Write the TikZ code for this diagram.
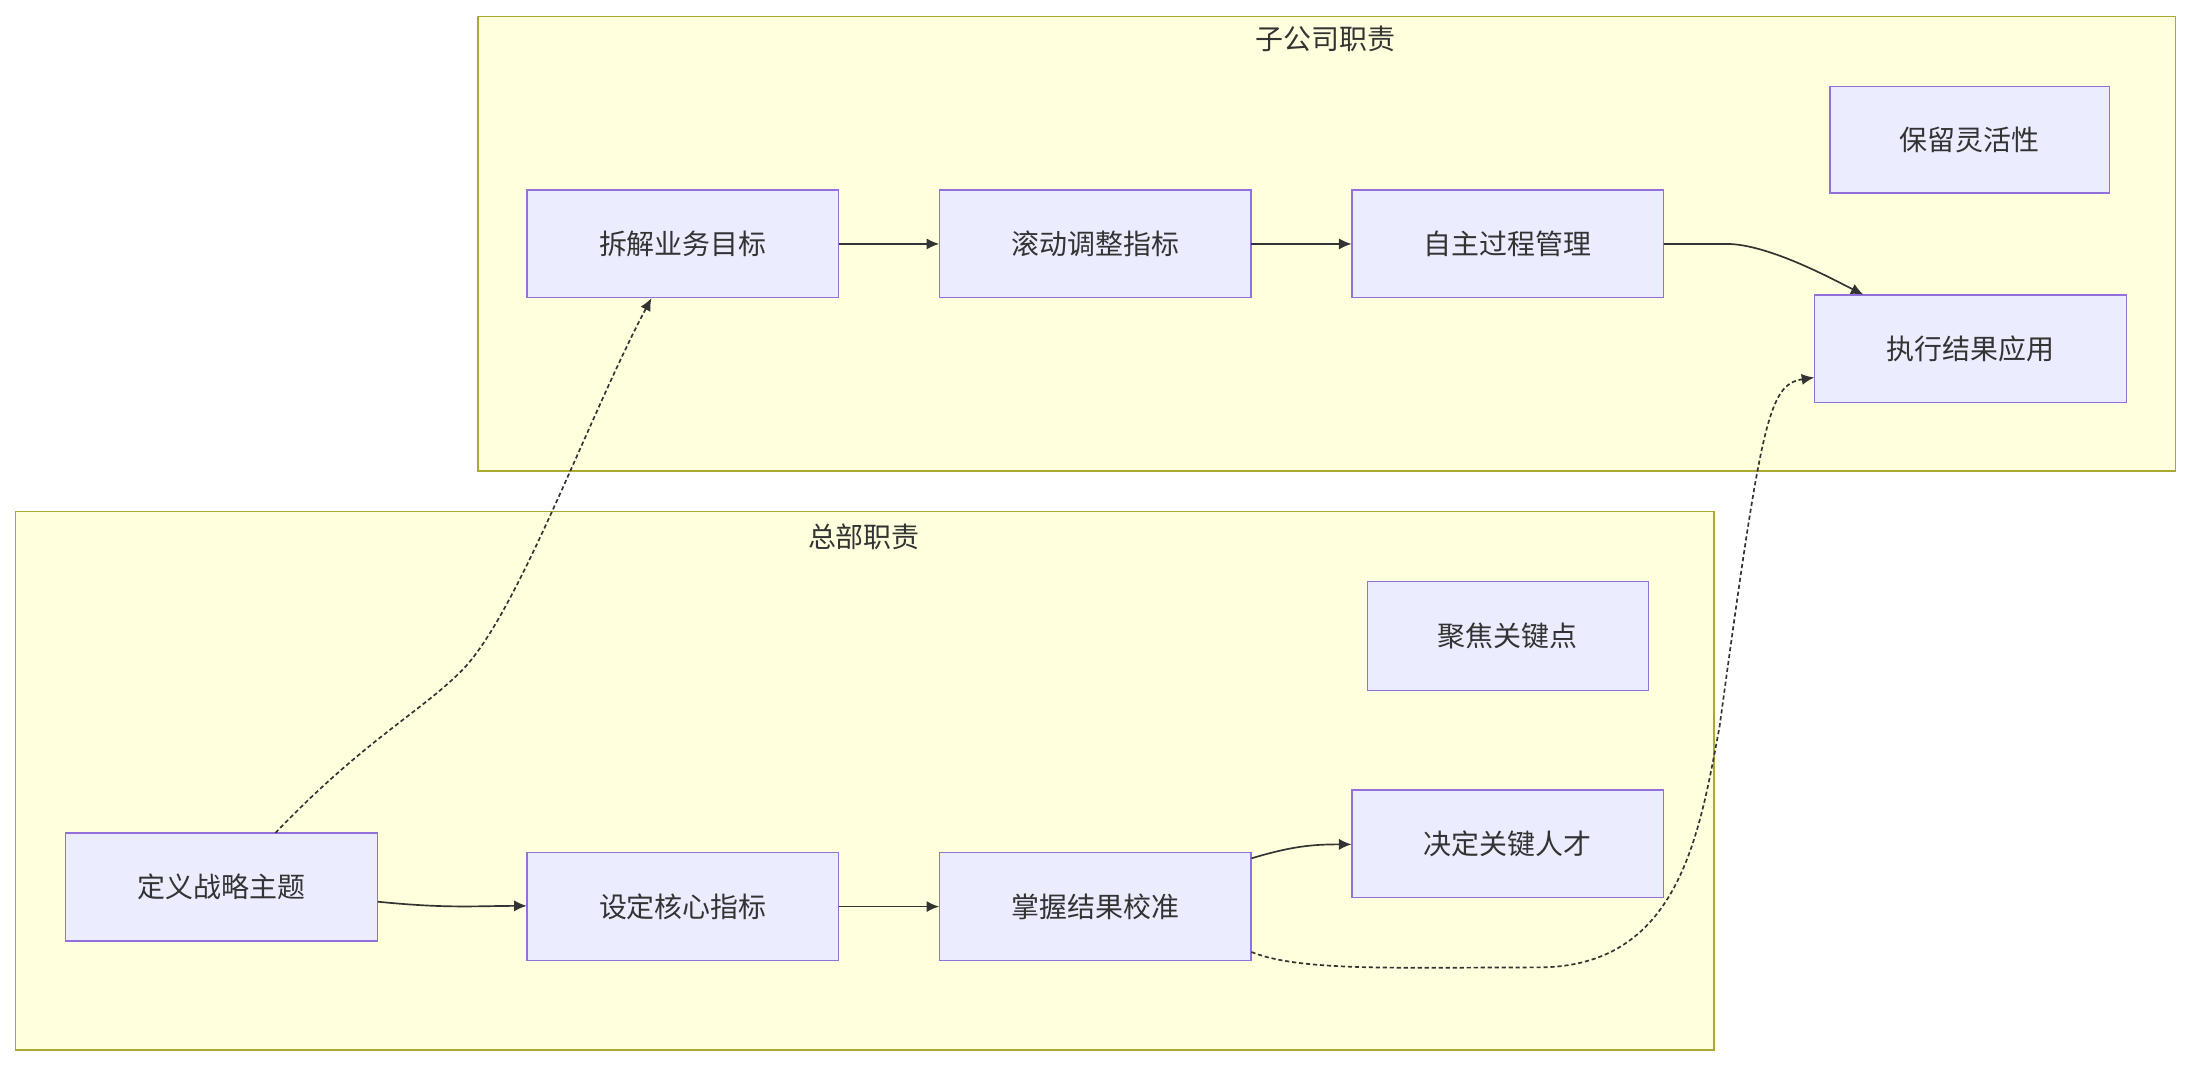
\documentclass[tikz,border=0pt]{standalone}
\usepackage{fontspec}
\setmainfont{Noto Sans CJK SC}
\usetikzlibrary{arrows.meta}
\definecolor{clf}{HTML}{FFFFDE}\definecolor{cld}{HTML}{AAAA33}
\definecolor{ndf}{HTML}{ECECFF}\definecolor{ndd}{HTML}{9370DB}
\definecolor{tx}{HTML}{333333}
\begin{document}
\begin{tikzpicture}[x=1pt,y=-1pt,
 clus/.style={draw=cld,fill=clf,line width=1pt},
 box/.style={draw=ndd,fill=ndf,line width=1pt},
 lab/.style={text=tx,font=\fontsize{20}{24}\selectfont},
 conn/.style={draw=tx,line width=1.2pt,-{Latex[length=9pt,width=8pt]}},
 dconn/.style={conn,dash pattern=on 3pt off 2pt}]
\useasboundingbox (0,0) rectangle (1568,763);
\draw[clus] (342,12) rectangle (1556,337);
\node[lab] (t1) at (948,28) {子公司职责};
\draw[clus] (11,366) rectangle (1226,751);
\node[lab] (t2) at (618,384) {总部职责};
\newcommand\mybox[6]{\draw[box] (#2,#3) rectangle (#4,#5);
 \node[lab] (#1) at ({(#2+#4)/2},{(#3+#5)/2}) [minimum width={#4-#2}, minimum height={#5-#3}] {#6};}
\mybox{A}{377}{136}{600}{213}{拆解业务目标}
\mybox{B}{672}{136}{895}{213}{滚动调整指标}
\mybox{C}{967}{136}{1190}{213}{自主过程管理}
\mybox{D}{1309}{62}{1509}{138}{保留灵活性}
\mybox{E}{1298}{211}{1521}{288}{执行结果应用}
\mybox{F}{978}{416}{1179}{494}{聚焦关键点}
\mybox{G}{967}{565}{1190}{642}{决定关键人才}
\mybox{H}{47}{596}{270}{673}{定义战略主题}
\mybox{I}{377}{610}{600}{687}{设定核心指标}
\mybox{J}{672}{610}{895}{687}{掌握结果校准}
\draw[conn] (A) -- (B);
\draw[conn] (B) -- (C);
\draw[conn] (C.east) -- ++(45,0) .. controls +(30,0) and +(-20,-10) .. (E.north west -| 1333,211);
\draw[conn] (H.east |- 0,645) .. controls (320,650) and (340,648) .. (I.west |- 0,648);
\draw[conn] (I) -- (J);
\draw[conn] (J.east |- 0,614) .. controls (925,605) and (940,604) .. (G.west |- 0,604);
\draw[dconn] (H.north -| 197,0) .. controls (260,530) and (300,510) .. (330,480) .. controls (370,440) and (420,300) .. (A.south -| 466,0);
\draw[dconn] (J.east |- 0,681) .. controls (930,695) and (1000,692) .. (1100,692) .. controls (1200,692) and (1215,600) .. (1230,520) .. controls (1260,300) and (1265,275) .. (E.west |- 0,270);
\end{tikzpicture}
\end{document}
